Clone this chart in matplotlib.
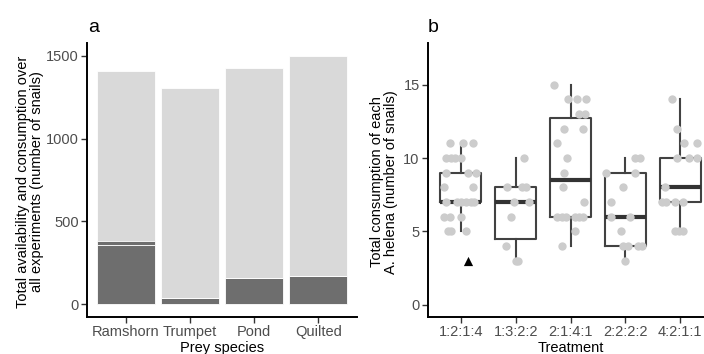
import matplotlib
matplotlib.use('Agg')
import matplotlib.pyplot as plt

plt.rcParams['font.family'] = ['Liberation Sans', 'DejaVu Sans']

# panel a: totals over all experiments
species = ['Ramshorn', 'Trumpet', 'Pond', 'Quilted']
available = [1410, 1305, 1425, 1500]
consumed_main = [357, 36, 157, 171]
consumed_extra = [26, 0, 0, 0]

# panel b: box stats per treatment
treatments = ['1:2:1:4', '1:3:2:2', '2:1:4:1', '2:2:2:2', '4:2:1:1']
q1 = [7, 4.5, 6, 4, 7]
med = [7, 7, 8.5, 6, 8]
q3 = [9, 8, 12.75, 9, 10]
whis_lo = [5, 3, 4, 3, 5]
whis_hi = [11, 10, 15, 10, 14]

# jittered points: (x offset from category centre, value)
pts_1 = [(-0.2, 11), (0.04, 11), (0.22, 11),
         (-0.27, 10), (-0.18, 10), (-0.11, 10), (0.0, 10),
         (-0.27, 9), (0.13, 9), (0.27, 9),
         (-0.3, 8), (0.22, 8),
         (-0.27, 7), (-0.08, 7), (0.0, 7), (0.1, 7), (0.18, 7), (0.24, 7),
         (-0.3, 6), (-0.2, 6), (0.0, 6),
         (-0.24, 5), (-0.18, 5), (0.1, 5)]
pts_2 = [(0.15, 10), (-0.16, 8), (0.11, 8), (0.18, 8),
         (-0.04, 7), (0.24, 7), (-0.09, 6), (-0.18, 4), (0.0, 3), (0.05, 3)]
pts_3 = [(-0.31, 15), (-0.05, 14), (0.12, 14), (0.29, 14), (0.16, 13), (0.27, 13),
         (-0.11, 12), (0.22, 12), (-0.24, 11), (-0.07, 10), (-0.11, 9), (-0.13, 8),
         (0.24, 7), (-0.24, 6), (-0.16, 6), (-0.09, 6), (0.09, 6), (0.16, 6), (0.22, 6),
         (0.09, 5), (-0.16, 4)]
pts_4 = [(0.18, 10), (0.27, 10), (-0.35, 9), (0.18, 9), (-0.04, 8), (-0.27, 7),
         (-0.27, 6), (0.09, 6), (-0.07, 5), (-0.05, 4), (0.05, 4), (0.24, 4), (0.31, 4),
         (0.0, 3)]
pts_5 = [(-0.15, 14), (-0.05, 12), (0.07, 11), (0.31, 11), (-0.05, 10), (0.16, 10),
         (0.31, 10), (-0.27, 8), (-0.33, 7), (-0.25, 7), (-0.09, 7), (0.05, 7),
         (-0.09, 5), (-0.02, 5), (0.05, 5)]
outlier = (1, 0.13, 3)  # treatment index (1-based), offset, value

W, H = 704, 354
fig = plt.figure(figsize=(W / 100, H / 100), dpi=100)

tick_col = '#4d4d4d'
axa = fig.add_axes([87 / W, 37 / H, 270 / W, 274 / H])
axb = fig.add_axes([428 / W, 37 / H, 285 / W, 274 / H])

for ax in (axa, axb):
    for s in ('top', 'right'):
        ax.spines[s].set_visible(False)
    for s in ('left', 'bottom'):
        ax.spines[s].set_linewidth(1.4)
        ax.spines[s].set_color('black')
    ax.tick_params(length=4, width=1, color='#333333', labelcolor=tick_col,
                   labelsize=10.5, pad=2)

# --- panel a
xs = range(len(species))
axa.bar(xs, available, width=0.9, color='#d9d9d9', edgecolor='white', linewidth=0.6)
axa.bar(xs, consumed_main, width=0.9, color='#6e6e6e', edgecolor='white', linewidth=0.6)
axa.bar(xs, consumed_extra, bottom=consumed_main, width=0.9, color='#6e6e6e',
        edgecolor='white', linewidth=0.6)
axa.set_xlim(-0.6, 3.6)
axa.set_ylim(-78, 1578)
axa.set_yticks([0, 500, 1000, 1500])
axa.set_xticks(list(xs))
axa.set_xticklabels(species)
axa.set_xlabel('Prey species', fontsize=10.5, labelpad=1)

# --- panel b
stats = []
for i in range(len(treatments)):
    stats.append(dict(med=med[i], q1=q1[i], q3=q3[i], whislo=whis_lo[i],
                      whishi=whis_hi[i], fliers=[]))
axb.bxp(stats, positions=range(1, 6), widths=0.75, showfliers=False,
        boxprops=dict(color='#424242', linewidth=1.5),
        whiskerprops=dict(color='#424242', linewidth=1.5),
        capprops=dict(linewidth=0),
        medianprops=dict(color='#333333', linewidth=3))
for i, pts in enumerate([pts_1, pts_2, pts_3, pts_4, pts_5]):
    axb.scatter([i + 1 + p[0] for p in pts], [p[1] for p in pts], s=36,
                color='#cccccc', linewidths=0, zorder=5)
axb.scatter([outlier[0] + outlier[1]], [outlier[2]], marker='^', s=44,
            color='black', linewidths=0, zorder=6)
axb.set_xlim(0.4, 5.6)
axb.set_ylim(-0.85, 17.85)
axb.set_yticks([0, 5, 10, 15])
axb.set_xticks(range(1, 6))
axb.set_xticklabels(treatments)
axb.set_xlabel('Treatment', fontsize=10.5, labelpad=1)

fig.text(30 / W, 1 - 182 / H,
         'Total availability and consumption over\nall experiments (number of snails)',
         rotation=90, ha='center', va='center', fontsize=10.5, linespacing=0.95)
fig.text(384 / W, 1 - 182 / H,
         'Total consumption of each\nA. helena (number of snails)',
         rotation=90, ha='center', va='center', fontsize=10.5, linespacing=0.95)
fig.text(88 / W, 1 - 27 / H, 'a', fontsize=14, ha='left', va='center')
fig.text(428 / W, 1 - 27 / H, 'b', fontsize=14, ha='left', va='center')

fig.savefig('out.png', dpi=100)
